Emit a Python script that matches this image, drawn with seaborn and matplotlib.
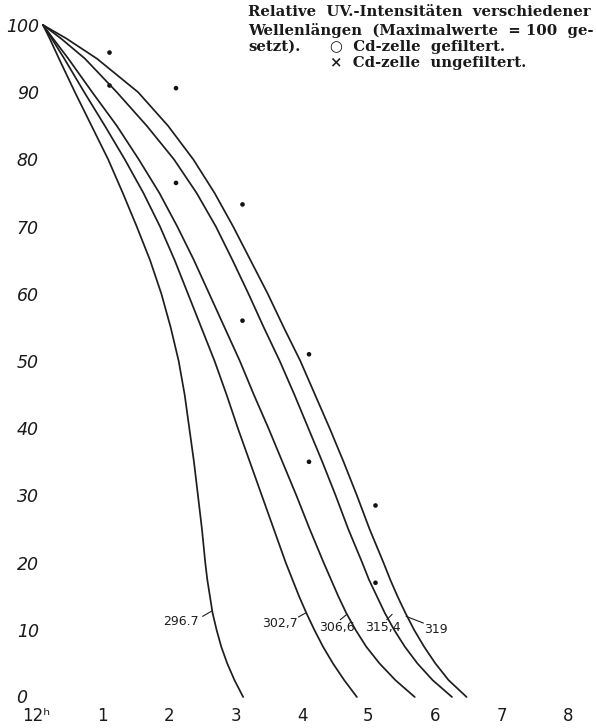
import numpy as np
import pandas as pd
import matplotlib
matplotlib.use("Agg")
import matplotlib.pyplot as plt
import matplotlib.transforms as mtransforms
import seaborn as sns

# ---- data ----
levels = [100, 98, 95, 90, 85, 80, 75, 70, 65, 60, 55, 50, 45, 40, 35, 30, 25,
          20, 17.5, 15, 12.5, 10, 7.5, 5, 2.5, 0]
wl_labels = ["296.7", "302,7", "306,6", "315,4", "319"]
c_2967 = [0, 0.10, 0.24, 0.48, 0.73, 0.98, 1.20, 1.41, 1.61, 1.78, 1.92, 2.04,
          2.13, 2.20, 2.27, 2.33, 2.39, 2.44, 2.47, 2.51, 2.55, 2.61, 2.68,
          2.77, 2.88, 3.01]
c_3027 = [0, 0.13, 0.32, 0.62, 0.93, 1.23, 1.51, 1.76, 1.98, 2.18, 2.38, 2.58,
          2.76, 2.93, 3.11, 3.29, 3.47, 3.65, 3.75, 3.85, 3.96, 4.08, 4.21,
          4.36, 4.53, 4.72]
c_3066 = [0, 0.15, 0.38, 0.74, 1.11, 1.44, 1.75, 2.02, 2.27, 2.50, 2.73, 2.96,
          3.17, 3.39, 3.60, 3.81, 4.01, 4.22, 4.33, 4.44, 4.56, 4.70, 4.86,
          5.06, 5.30, 5.59]
c_3154 = [0, 0.27, 0.63, 1.11, 1.56, 1.97, 2.31, 2.60, 2.85, 3.09, 3.32, 3.56,
          3.78, 3.99, 4.20, 4.40, 4.59, 4.80, 4.90, 5.02, 5.14, 5.28, 5.44,
          5.63, 5.86, 6.15]
c_3190 = [0, 0.35, 0.81, 1.43, 1.88, 2.26, 2.58, 2.86, 3.12, 3.38, 3.62, 3.87,
          4.09, 4.31, 4.52, 4.72, 4.91, 5.12, 5.22, 5.33, 5.45, 5.58, 5.73,
          5.90, 6.10, 6.37]

dot_hours = [1, 2, 3, 4, 5]
gefiltert = [95.9, 90.6, 73.3, 51.0, 28.5]
ungefiltert = [91.0, 76.5, 56.0, 35.0, 17.0]

x_ticks = [0, 1, 2, 3, 4, 5, 6, 7, 8]
x_ticklabels = ["12\u02b0", "1", "2", "3", "4", "5", "6", "7", "8"]
y_ticks = [0, 10, 20, 30, 40, 50, 60, 70, 80, 90, 100]

# curve-label text positions and leader lines (data coords)
lab_text = [(2.08, 11.2), (3.56, 11.0), (4.42, 10.4), (5.11, 10.3), (5.91, 10.0)]
lead_a = [(2.40, 12.0), (3.84, 11.9), (4.47, 11.5), (5.17, 11.5), (5.46, 12.0)]
lead_b = [(2.54, 12.8), (3.95, 12.5), (4.57, 12.3), (5.25, 12.3), (5.72, 11.0)]

curves = [c_2967, c_3027, c_3066, c_3154, c_3190]
rows = []
for name, hs in zip(wl_labels, curves):
    for h, v in zip(hs, levels):
        rows.append({"nm": name, "h": h, "v": v})
df = pd.DataFrame(rows)

dots = pd.DataFrame({
    "h": dot_hours + dot_hours,
    "v": gefiltert + ungefiltert,
    "kind": ["gefiltert"] * 5 + ["ungefiltert"] * 5,
})

# ---- figure ----
sns.set_theme(style="white")
plt.rcParams["font.family"] = ["DejaVu Sans"]
W, H = 597, 728
fig = plt.figure(figsize=(W / 100, H / 100), dpi=100)
ax = fig.add_axes([43 / W, 31 / H, (W - 43) / W, 672 / H])
ax.set_xlim(0, (W - 43) / 66.5)
ax.set_ylim(0, 100)

sns.lineplot(data=df, x="h", y="v", hue="nm", sort=False, estimator=None,
             palette=["#1e1e1e"] * 5, linewidth=1.25, legend=False, ax=ax,
             clip_on=False)
sns.scatterplot(data=dots, x="h", y="v", color="#111111", s=11,
                edgecolor="none", legend=False, ax=ax, clip_on=False)

for (tx, ty), (ax0, ay0), (ax1, ay1), lab in zip(lab_text, lead_a, lead_b, wl_labels):
    ax.text(tx, ty, lab, ha="center", va="center", fontsize=9, color="#1e1e1e")
    ax.plot([ax0, ax1], [ay0, ay1], color="#1e1e1e", lw=0.8)

for s in ax.spines.values():
    s.set_visible(False)
ax.set_xlabel("")
ax.set_ylabel("")
ax.set_xticks(x_ticks)
ax.set_xticklabels(x_ticklabels, fontsize=12)
ax.set_yticks(y_ticks)
ax.set_yticklabels([str(t) for t in y_ticks], fontsize=12.5, style="italic")
ax.tick_params(axis="both", length=0, colors="#1a1a1a")
ax.tick_params(axis="x", pad=7)
ax.tick_params(axis="y", pad=3)
off = mtransforms.ScaledTranslation(-7 / 100, 0, fig.dpi_scale_trans)
for lbl in ax.get_xticklabels():
    lbl.set_transform(lbl.get_transform() + off)
ylbls = ax.get_yticklabels()
ylbls[0].set_transform(ylbls[0].get_transform() +
                       mtransforms.ScaledTranslation(-12 / 100, 1 / 100, fig.dpi_scale_trans))
ax.grid(False)

# legend block (top right)
serif = ["DejaVu Serif", "DejaVu Sans"]
fs = 10.7
kw = dict(fontsize=fs, fontweight="bold", family=serif, ha="left", va="center",
          color="#1a1a1a")
fig.text(248 / W, 1 - 12 / H, "Relative  UV.-Intensitäten  verschiedener", **kw)
fig.text(248 / W, 1 - 30 / H, "Wellenlängen  (Maximalwerte  = 100  ge-", **kw)
fig.text(248 / W, 1 - 47 / H, "setzt).", **kw)
fig.text(330 / W, 1 - 47 / H, "\u25cb  Cd-zelle  gefiltert.", **kw)
fig.text(330 / W, 1 - 63 / H, "\u00d7  Cd-zelle  ungefiltert.", **kw)

fig.savefig("out.png", dpi=100, facecolor="white")
